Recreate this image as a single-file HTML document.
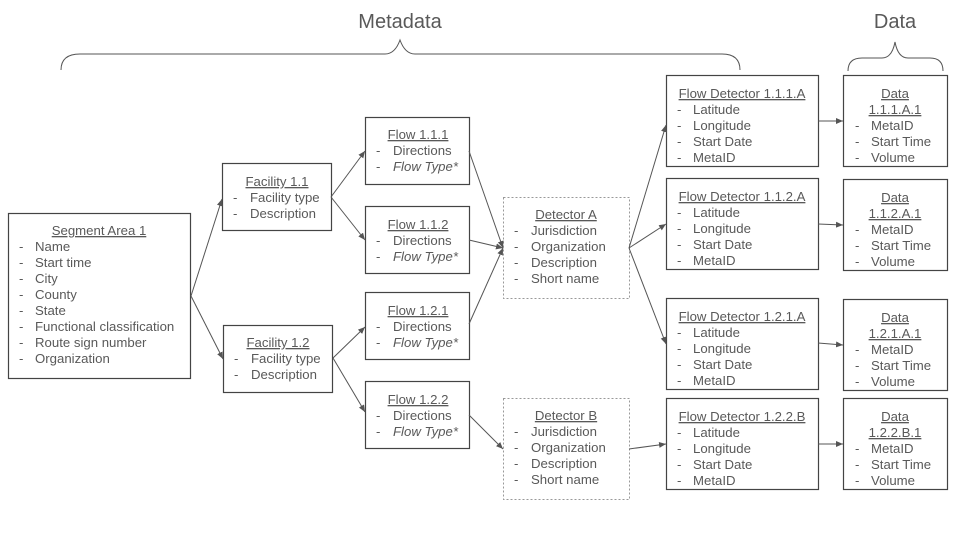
<!DOCTYPE html>
<html><head><meta charset="utf-8"><style>
html,body{margin:0;padding:0;background:#fff;}
svg{display:block;}
text{font-family:"Liberation Sans",Arial,sans-serif;font-size:13.2px;fill:#595959;}
.t{text-decoration:underline;text-anchor:middle;}
.i{font-style:italic;}
.b{fill:none;stroke:#444;stroke-width:1.2;}
.d{fill:none;stroke:#999;stroke-width:1;stroke-dasharray:2,2;}
.a{fill:none;stroke:#555;stroke-width:1;marker-end:url(#ar);}
.br{fill:none;stroke:#555;stroke-width:1;}
</style></head><body>
<svg width="960" height="540" viewBox="0 0 960 540">
<defs><marker id="ar" markerWidth="8" markerHeight="8" refX="7" refY="3" orient="auto" markerUnits="userSpaceOnUse"><path d="M0,0 L7,3 L0,6 z" fill="#555"/></marker></defs>

<text x="400" y="28" style="font-size:20px;text-anchor:middle">Metadata</text>
<text x="895" y="28" style="font-size:20px;text-anchor:middle">Data</text>
<path class="br" d="M61,70 Q61,54 80,54 L385,54 Q395,54 400,40 Q405,54 415,54 L722,54 Q740,54 740,70"/>
<path class="br" d="M848,71 Q848,58 862,58 L882,58 Q892,58 895,42 Q898,58 908,58 L930,58 Q943,58 943,71"/>

<!-- Segment -->
<rect class="b" x="8.5" y="213.5" width="182" height="165"/>
<text class="t" x="99" y="235">Segment Area 1</text>
<g><text x="19" y="251">-</text><text x="35" y="251">Name</text>
<text x="19" y="267">-</text><text x="35" y="267">Start time</text>
<text x="19" y="283">-</text><text x="35" y="283">City</text>
<text x="19" y="299">-</text><text x="35" y="299">County</text>
<text x="19" y="315">-</text><text x="35" y="315">State</text>
<text x="19" y="331">-</text><text x="35" y="331">Functional classification</text>
<text x="19" y="347">-</text><text x="35" y="347">Route sign number</text>
<text x="19" y="363">-</text><text x="35" y="363">Organization</text></g>

<!-- Facilities -->
<rect class="b" x="222.5" y="163.5" width="109" height="67"/>
<text class="t" x="277" y="186">Facility 1.1</text>
<text x="233" y="202">-</text><text x="250" y="202">Facility type</text>
<text x="233" y="218">-</text><text x="250" y="218">Description</text>
<rect class="b" x="223.5" y="325.5" width="109" height="67"/>
<text class="t" x="278" y="347">Facility 1.2</text>
<text x="234" y="363">-</text><text x="251" y="363">Facility type</text>
<text x="234" y="379">-</text><text x="251" y="379">Description</text>

<!-- Flows -->
<rect class="b" x="365.5" y="117.5" width="104" height="67"/>
<text class="t" x="418" y="139">Flow 1.1.1</text>
<text x="376" y="155">-</text><text x="393" y="155">Directions</text>
<text x="376" y="171">-</text><text class="i" x="393" y="171">Flow Type*</text>
<rect class="b" x="365.5" y="206.5" width="104" height="67"/>
<text class="t" x="418" y="229">Flow 1.1.2</text>
<text x="376" y="245">-</text><text x="393" y="245">Directions</text>
<text x="376" y="261">-</text><text class="i" x="393" y="261">Flow Type*</text>
<rect class="b" x="365.5" y="292.5" width="104" height="67"/>
<text class="t" x="418" y="315">Flow 1.2.1</text>
<text x="376" y="331">-</text><text x="393" y="331">Directions</text>
<text x="376" y="347">-</text><text class="i" x="393" y="347">Flow Type*</text>
<rect class="b" x="365.5" y="381.5" width="104" height="67"/>
<text class="t" x="418" y="404">Flow 1.2.2</text>
<text x="376" y="420">-</text><text x="393" y="420">Directions</text>
<text x="376" y="436">-</text><text class="i" x="393" y="436">Flow Type*</text>

<!-- Detectors -->
<rect class="d" x="503.5" y="197.5" width="126" height="101"/>
<text class="t" x="566" y="219">Detector A</text>
<text x="514" y="235">-</text><text x="531" y="235">Jurisdiction</text>
<text x="514" y="251">-</text><text x="531" y="251">Organization</text>
<text x="514" y="267">-</text><text x="531" y="267">Description</text>
<text x="514" y="283">-</text><text x="531" y="283">Short name</text>
<rect class="d" x="503.5" y="398.5" width="126" height="101"/>
<text class="t" x="566" y="420">Detector B</text>
<text x="514" y="436">-</text><text x="531" y="436">Jurisdiction</text>
<text x="514" y="452">-</text><text x="531" y="452">Organization</text>
<text x="514" y="468">-</text><text x="531" y="468">Description</text>
<text x="514" y="484">-</text><text x="531" y="484">Short name</text>

<!-- Flow detectors -->
<g>
<rect class="b" x="666.5" y="75.5" width="152" height="91"/>
<text class="t" x="742" y="98">Flow Detector 1.1.1.A</text>
<text x="677" y="114">-</text><text x="693" y="114">Latitude</text>
<text x="677" y="130">-</text><text x="693" y="130">Longitude</text>
<text x="677" y="146">-</text><text x="693" y="146">Start Date</text>
<text x="677" y="162">-</text><text x="693" y="162">MetaID</text>
</g>
<g transform="translate(0,103)">
<rect class="b" x="666.5" y="75.5" width="152" height="91"/>
<text class="t" x="742" y="98">Flow Detector 1.1.2.A</text>
<text x="677" y="114">-</text><text x="693" y="114">Latitude</text>
<text x="677" y="130">-</text><text x="693" y="130">Longitude</text>
<text x="677" y="146">-</text><text x="693" y="146">Start Date</text>
<text x="677" y="162">-</text><text x="693" y="162">MetaID</text>
</g>
<g transform="translate(0,223)">
<rect class="b" x="666.5" y="75.5" width="152" height="91"/>
<text class="t" x="742" y="98">Flow Detector 1.2.1.A</text>
<text x="677" y="114">-</text><text x="693" y="114">Latitude</text>
<text x="677" y="130">-</text><text x="693" y="130">Longitude</text>
<text x="677" y="146">-</text><text x="693" y="146">Start Date</text>
<text x="677" y="162">-</text><text x="693" y="162">MetaID</text>
</g>
<g transform="translate(0,323)">
<rect class="b" x="666.5" y="75.5" width="152" height="91"/>
<text class="t" x="742" y="98">Flow Detector 1.2.2.B</text>
<text x="677" y="114">-</text><text x="693" y="114">Latitude</text>
<text x="677" y="130">-</text><text x="693" y="130">Longitude</text>
<text x="677" y="146">-</text><text x="693" y="146">Start Date</text>
<text x="677" y="162">-</text><text x="693" y="162">MetaID</text>
</g>

<!-- Data -->
<g>
<rect class="b" x="843.5" y="75.5" width="104" height="91"/>
<text class="t" x="895" y="98">Data</text><text class="t" x="895" y="114">1.1.1.A.1</text>
<text x="855" y="130">-</text><text x="871" y="130">MetaID</text>
<text x="855" y="146">-</text><text x="871" y="146">Start Time</text>
<text x="855" y="162">-</text><text x="871" y="162">Volume</text>
</g>
<g transform="translate(0,104)">
<rect class="b" x="843.5" y="75.5" width="104" height="91"/>
<text class="t" x="895" y="98">Data</text><text class="t" x="895" y="114">1.1.2.A.1</text>
<text x="855" y="130">-</text><text x="871" y="130">MetaID</text>
<text x="855" y="146">-</text><text x="871" y="146">Start Time</text>
<text x="855" y="162">-</text><text x="871" y="162">Volume</text>
</g>
<g transform="translate(0,224)">
<rect class="b" x="843.5" y="75.5" width="104" height="91"/>
<text class="t" x="895" y="98">Data</text><text class="t" x="895" y="114">1.2.1.A.1</text>
<text x="855" y="130">-</text><text x="871" y="130">MetaID</text>
<text x="855" y="146">-</text><text x="871" y="146">Start Time</text>
<text x="855" y="162">-</text><text x="871" y="162">Volume</text>
</g>
<g transform="translate(0,323)">
<rect class="b" x="843.5" y="75.5" width="104" height="91"/>
<text class="t" x="895" y="98">Data</text><text class="t" x="895" y="114">1.2.2.B.1</text>
<text x="855" y="130">-</text><text x="871" y="130">MetaID</text>
<text x="855" y="146">-</text><text x="871" y="146">Start Time</text>
<text x="855" y="162">-</text><text x="871" y="162">Volume</text>
</g>

<!-- Arrows -->
<line class="a" x1="191" y1="296" x2="222" y2="199"/>
<line class="a" x1="191" y1="296" x2="223" y2="359"/>
<line class="a" x1="331" y1="197" x2="365" y2="151"/>
<line class="a" x1="331" y1="197" x2="365" y2="240"/>
<line class="a" x1="333" y1="358" x2="365" y2="327"/>
<line class="a" x1="333" y1="358" x2="365" y2="412"/>
<line class="a" x1="469" y1="151" x2="503" y2="248"/>
<line class="a" x1="469" y1="240" x2="503" y2="248"/>
<line class="a" x1="469" y1="324" x2="503" y2="248"/>
<line class="a" x1="469" y1="415" x2="503" y2="449"/>
<line class="a" x1="629" y1="248" x2="666" y2="125"/>
<line class="a" x1="629" y1="248" x2="666" y2="224"/>
<line class="a" x1="629" y1="248" x2="666" y2="344"/>
<line class="a" x1="629" y1="449" x2="666" y2="444"/>
<line class="a" x1="818" y1="121" x2="843" y2="121"/>
<line class="a" x1="818" y1="224" x2="843" y2="225"/>
<line class="a" x1="818" y1="343" x2="843" y2="345"/>
<line class="a" x1="818" y1="444" x2="843" y2="444"/>
</svg>
</body></html>
